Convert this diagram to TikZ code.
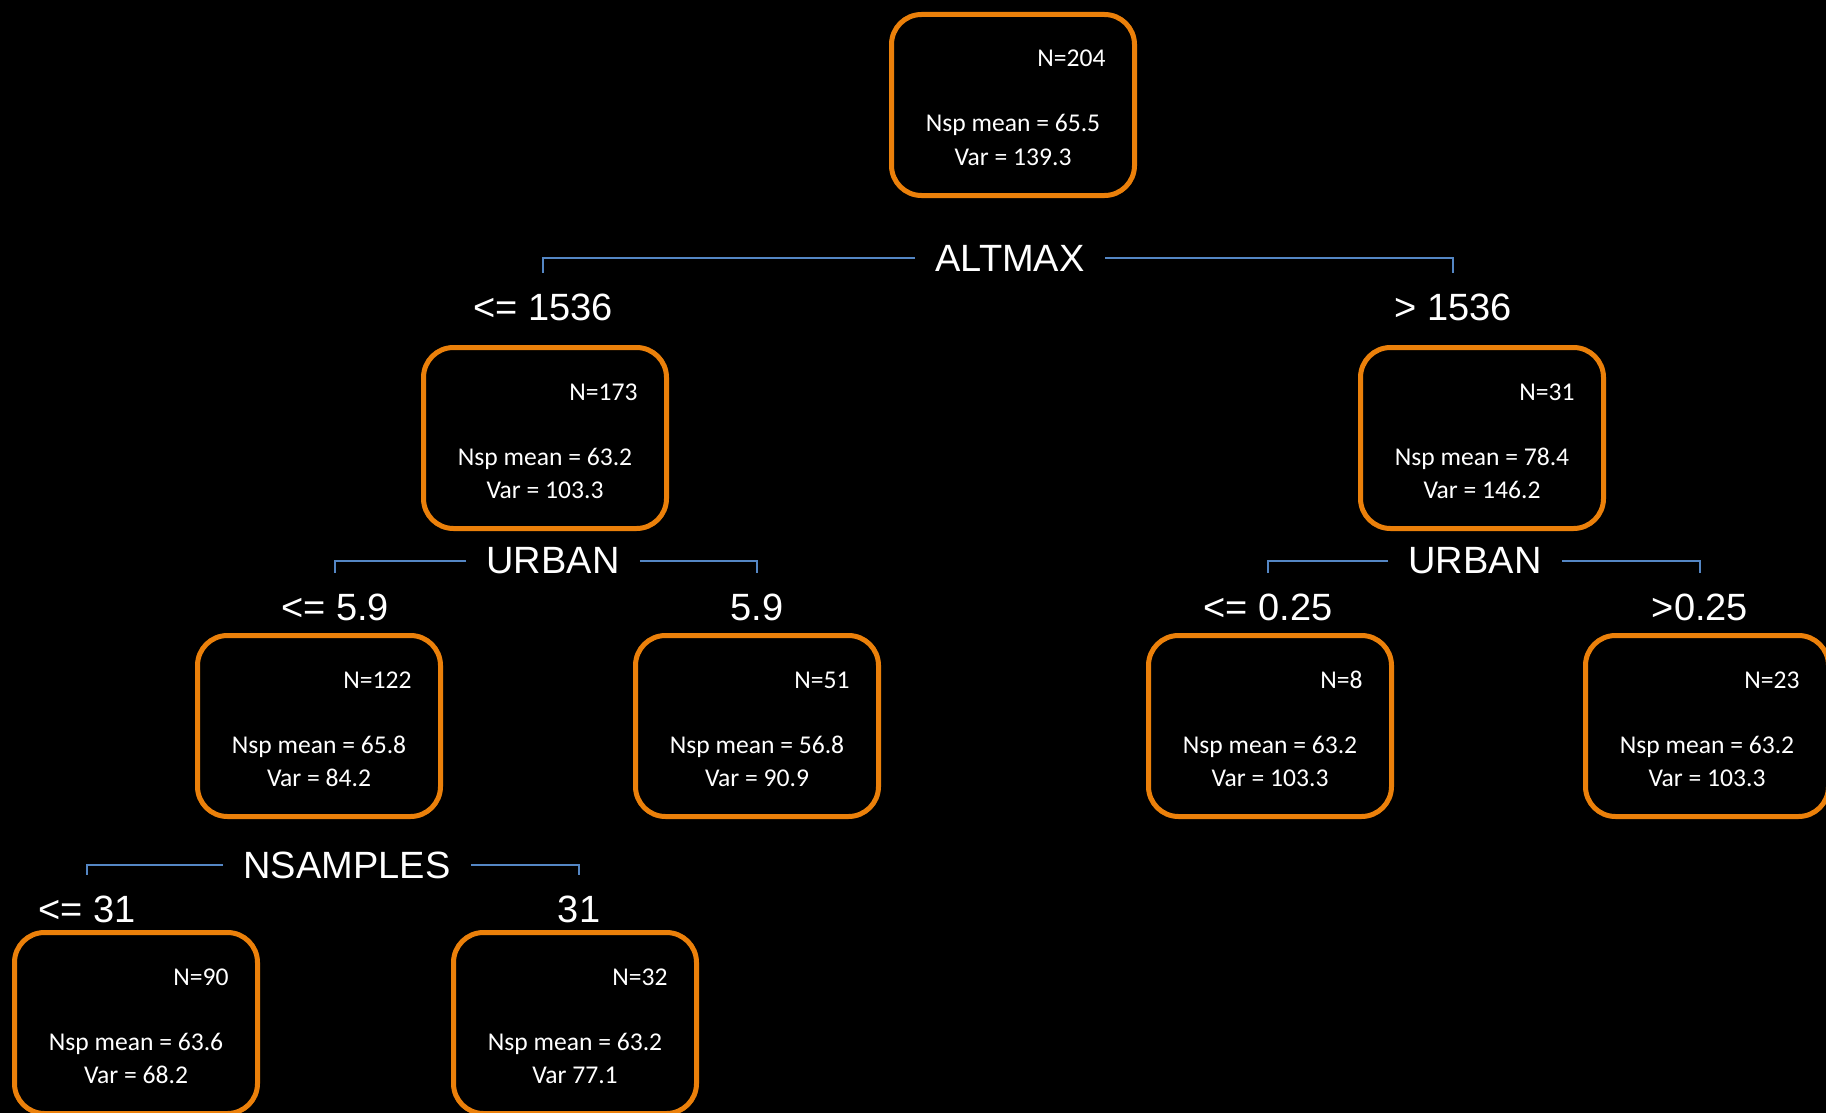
\documentclass[tikz,border=0pt]{standalone}
\usepackage{fontspec}
\setmainfont{Carlito}
\newfontfamily\splitfont{Liberation Sans}
\usetikzlibrary{calc}

\definecolor{leaforange}{RGB}{235,128,10}
\definecolor{splitblue}{RGB}{84,134,196}

\tikzset{
  leaf/.style={draw=leaforange, line width=2.5pt, rounded corners=15pt,
    minimum width=121.5pt, minimum height=90.5pt, inner sep=0pt},
  stat/.style={text=white, font=\fontsize{12.8}{15}\selectfont, inner sep=0pt},
  splitname/.style={text=white, font=\splitfont\fontsize{19}{22}\selectfont,
    inner xsep=10pt, inner ysep=2pt},
  cutlabel/.style={text=white, font=\splitfont\fontsize{19}{22}\selectfont,
    inner xsep=0pt, inner ysep=10pt, anchor=base},
  branch/.style={draw=splitblue, line width=1pt},
}

% box of one tree node: name, x, y, N, mean, var line
\newcommand{\leafbox}[6]{%
  \node[leaf] (#1) at (#2,#3) {};
  \node[stat, anchor=base east] (#1-n) at ($(#1.north east)+(-31,55)$) {N=#4};
  \node[stat, anchor=base] (#1-m) at ($(#1.center)+(0,27)$) {Nsp mean = #5};
  \node[stat, anchor=base] (#1-v) at ($(#1.center)+(0,60)$) {#6};
}

\begin{document}
\begin{tikzpicture}[x=0.5pt,y=-0.5pt]
\fill[black] (0,0) rectangle (1826,1113);
\useasboundingbox (0,0) rectangle (1826,1113);

% boxes
\leafbox{root}{1013}{105}{204}{65.5}{Var = 139.3}
\leafbox{low}{545}{438}{173}{63.2}{Var = 103.3}
\leafbox{high}{1482}{438}{31}{78.4}{Var = 146.2}
\leafbox{lowlow}{319}{726}{122}{65.8}{Var = 84.2}
\leafbox{lowhigh}{757}{726}{51}{56.8}{Var = 90.9}
\leafbox{highlow}{1270}{726}{8}{63.2}{Var = 103.3}
\leafbox{highhigh}{1707}{726}{23}{63.2}{Var = 103.3}
\leafbox{fewsamp}{136}{1023}{90}{63.6}{Var = 68.2}
\leafbox{manysamp}{575}{1023}{32}{63.2}{Var 77.1}

% ALTMAX split
\node[splitname] (altmax) at (1010,258) {ALTMAX};
\node[cutlabel] (le1536) at (543,320) {<= 1536};
\node[cutlabel] (gt1536) at (1453,320) {> 1536};
\draw[branch] (altmax.west) -| (le1536.north);
\draw[branch] (altmax.east) -| (gt1536.north);

% URBAN split, left
\node[splitname] (urbanl) at (553,561) {URBAN};
\node[cutlabel] (le59) at (335,620) {<= 5.9};
\node[cutlabel] (gt59) at (757,620) {5.9};
\draw[branch] (urbanl.west) -| (le59.north);
\draw[branch] (urbanl.east) -| (gt59.north);

% URBAN split, right
\node[splitname] (urbanr) at (1475,561) {URBAN};
\node[cutlabel] (le025) at (1268,620) {<= 0.25};
\node[cutlabel] (gt025) at (1700,620) {>0.25};
\draw[branch] (urbanr.west) -| (le025.north);
\draw[branch] (urbanr.east) -| (gt025.north);

% NSAMPLES split
\node[splitname] (nsamples) at (347,865) {NSAMPLES};
\node[cutlabel] (le31) at (87,922) {<= 31};
\node[cutlabel] (gt31) at (579,922) {31};
\draw[branch] (nsamples.west) -| (le31.north);
\draw[branch] (nsamples.east) -| (gt31.north);
\end{tikzpicture}
\end{document}
